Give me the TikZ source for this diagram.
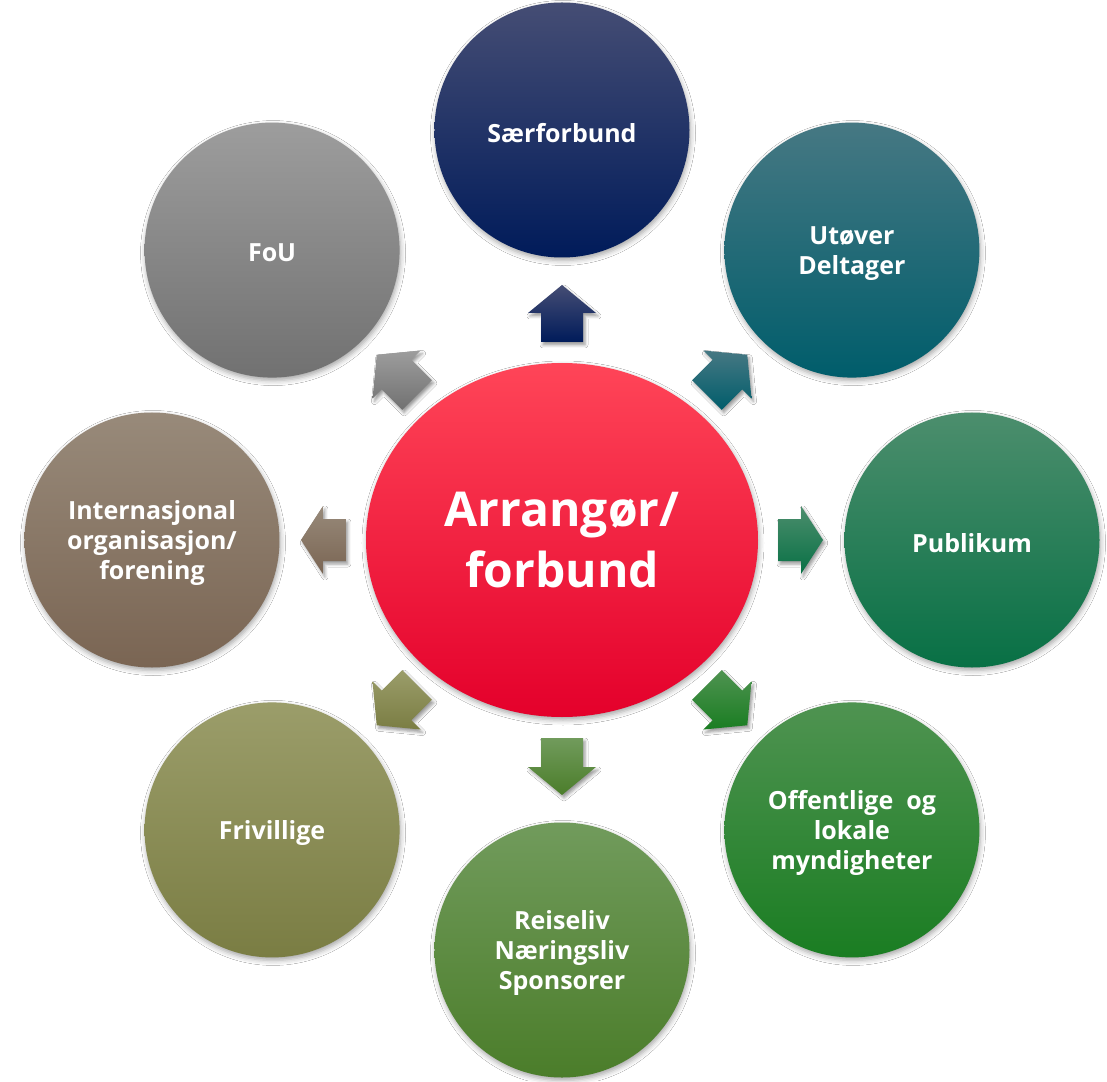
\documentclass[tikz,border=0pt]{standalone}
\usepackage{fontspec}
\setmainfont{Open Sans}
\usetikzlibrary{calc,shapes.geometric,shadows.blur}
\definecolor{sfT}{HTML}{454D74}\definecolor{sfB}{HTML}{001B5A}
\definecolor{utT}{HTML}{467883}\definecolor{utB}{HTML}{005D6B}
\definecolor{puT}{HTML}{4C8E6D}\definecolor{puB}{HTML}{087045}
\definecolor{ofT}{HTML}{4F9351}\definecolor{ofB}{HTML}{1A7D22}
\definecolor{reT}{HTML}{719B5C}\definecolor{reB}{HTML}{4B7D2A}
\definecolor{frT}{HTML}{9B9D6A}\definecolor{frB}{HTML}{7A7D43}
\definecolor{inT}{HTML}{988A7A}\definecolor{inB}{HTML}{7A6553}
\definecolor{foT}{HTML}{9D9D9D}\definecolor{foB}{HTML}{717171}
\definecolor{ceT}{HTML}{FF4558}\definecolor{ceM}{HTML}{FF0030}\definecolor{ceB}{HTML}{E4002B}
\newcommand\blockarrow[6]{%
  \pgfmathsetmacro\ba{#3-#4}%
  \path[arrowshape, top color=#5, bottom color=#6]
    ($(#1:#2)+(#1-90:21)$) -- ($(#1:\ba)+(#1-90:21)$) -- ($(#1:\ba)+(#1-90:34)$) --
    (#1:#3) -- ($(#1:\ba)+(#1+90:34)$) -- ($(#1:\ba)+(#1+90:21)$) --
    ($(#1:#2)+(#1+90:21)$) -- cycle;}
\newcommand\bubblenode[5]{% name, angle, top, bottom, text
  \node[bubble, top color=#3, middle color=#4!92!#3, bottom color=#4] (#1) at (#2:410) {};
  \node[bubbletext] (#1-t) at ($(#1)+(0,-3)$) {#5};}
\tikzset{
  bubble/.style={circle, minimum size=255pt, inner sep=0pt,
    blur shadow={shadow xshift=1pt, shadow yshift=-3pt, shadow blur radius=5pt, shadow opacity=35}},
  bubbletext/.style={inner sep=0pt, text=white, align=center, font=\bfseries\fontsize{25}{30}\selectfont},
  arrowshape/.style={blur shadow={shadow xshift=2pt, shadow yshift=-3pt, shadow blur radius=3pt, shadow opacity=40}}
}
\begin{document}
\begin{tikzpicture}[x=1pt,y=1pt]
\fill[white] (-562,-541) rectangle (545,540);
\useasboundingbox (-562,-541) rectangle (545,540);
% arrows
\blockarrow{90}{198}{255}{28}{sfT}{sfB}
\blockarrow{45}{205}{262}{28}{utT}{utB}
\blockarrow{0}{216}{261}{22}{puT}{puB}
\blockarrow{-45}{205}{262}{28}{ofT}{ofB}
\blockarrow{-90}{198}{255}{28}{reT}{reB}
\blockarrow{-135}{205}{262}{28}{frT}{frB}
\blockarrow{180}{216}{261}{22}{inT}{inB}
\blockarrow{135}{205}{262}{28}{foT}{foB}
% center
\node[ellipse, minimum width=392pt, minimum height=354pt, inner sep=0pt, text=white, align=center,
  font=\bfseries\fontsize{48}{61}\selectfont, top color=ceT, middle color=ceM, bottom color=ceB,
  blur shadow={shadow xshift=1pt, shadow yshift=-3pt, shadow blur radius=5pt, shadow opacity=35}]
  (c) at (0,0) {Arrangør/\\forbund};
% outer bubbles
\bubblenode{sf}{90}{sfT}{sfB}{Særforbund}
\bubblenode{ut}{45}{utT}{utB}{Utøver\\Deltager}
\bubblenode{pu}{0}{puT}{puB}{Publikum}
\bubblenode{of}{-45}{ofT}{ofB}{Offentlige\ \ og\\lokale\\myndigheter}
\bubblenode{re}{-90}{reT}{reB}{Reiseliv\\Næringsliv\\Sponsorer}
\bubblenode{fr}{-135}{frT}{frB}{Frivillige}
\bubblenode{in}{180}{inT}{inB}{Internasjonal\\organisasjon/\\forening}
\bubblenode{fo}{135}{foT}{foB}{FoU}
\end{tikzpicture}
\end{document}
